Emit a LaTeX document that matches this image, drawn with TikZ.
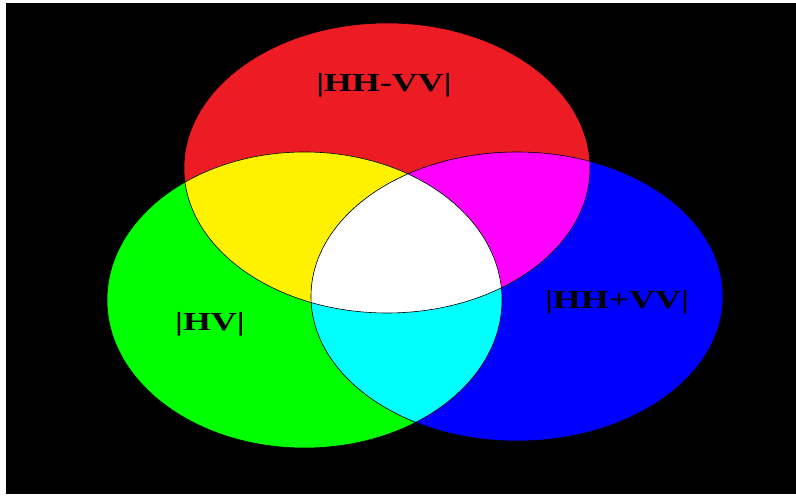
\documentclass[tikz,border=0pt]{standalone}
\usepackage{fontspec}
\setmainfont{Liberation Serif}

\definecolor{setred}{RGB}{237,28,36}
\definecolor{setgreen}{RGB}{0,255,0}
\definecolor{setblue}{RGB}{0,0,255}
\definecolor{setyellow}{RGB}{255,242,0}
\definecolor{setmagenta}{RGB}{255,0,255}
\definecolor{setcyan}{RGB}{0,255,255}

% the three sets, as paths
\newcommand{\redset}{(387,329) ellipse [x radius=203pt, y radius=145pt]}
\newcommand{\greenset}{(304.5,197) ellipse [x radius=197.5pt, y radius=148pt]}
\newcommand{\blueset}{(517,200.5) ellipse [x radius=206pt, y radius=144.5pt]}
\newcommand{\setname}[1]{\scalebox{1.38}[1]{#1}}

\begin{document}
\begin{tikzpicture}[x=1pt, y=1pt,
  setlabel/.style={font=\bfseries\fontsize{26}{26}\selectfont, text=black, inner sep=0pt},
  outline/.style={draw=black, line width=0.6pt}]
  \fill[white] (0,0) rectangle (796,497);
  \fill[black] (6,3) rectangle (796,494);

  \fill[setred] \redset;
  \fill[setgreen] \greenset;
  \fill[setblue] \blueset;

  % overlaps
  \begin{scope}
    \clip \redset;
    \fill[setyellow] \greenset;
  \end{scope}
  \begin{scope}
    \clip \redset;
    \fill[setmagenta] \blueset;
  \end{scope}
  \begin{scope}
    \clip \greenset;
    \fill[setcyan] \blueset;
  \end{scope}
  \begin{scope}
    \clip \redset;
    \clip \greenset;
    \fill[white] \blueset;
  \end{scope}

  \draw[outline] \redset \greenset \blueset;

  \node[setlabel] (hhvvdiff) at (384,412) {\setname{|HH-VV|}};
  \node[setlabel] (hv) at (210,173) {\setname{|HV|}};
  \node[setlabel] (hhvvsum) at (617,195) {\setname{|HH+VV|}};
\end{tikzpicture}
\end{document}
